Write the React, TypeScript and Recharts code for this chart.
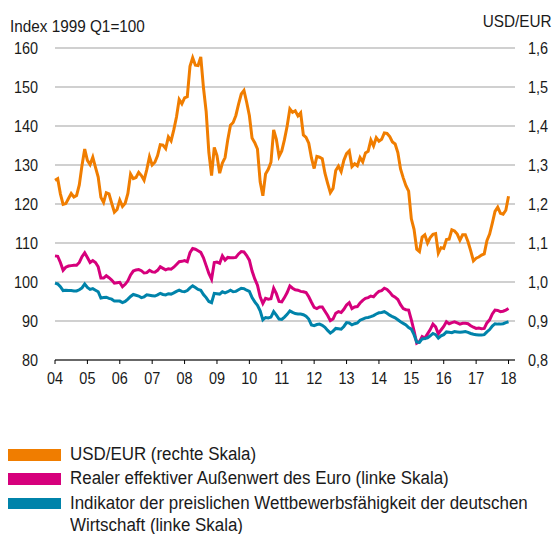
import React from 'react';
import { LineChart, Line, XAxis, YAxis, CartesianGrid } from 'recharts';

const FONT = "'Liberation Sans', Arial, sans-serif";

const ORANGE = '#f07d00';
const PINK = '#d6007c';
const BLUE = '#0083aa';

// monthly, Jan 2004 .. Jan 2018
const START_YEAR = 2004;

const usdEur = [
  1.261, 1.265, 1.226, 1.199, 1.201, 1.214, 1.227, 1.218, 1.222, 1.249, 1.299, 1.341,
  1.312, 1.301, 1.320, 1.294, 1.269, 1.217, 1.204, 1.229, 1.226, 1.202, 1.179, 1.186,
  1.210, 1.194, 1.202, 1.227, 1.277, 1.265, 1.268, 1.281, 1.273, 1.261, 1.288, 1.321,
  1.300, 1.307, 1.324, 1.352, 1.351, 1.342, 1.372, 1.362, 1.390, 1.423, 1.468, 1.457,
  1.472, 1.475, 1.553, 1.575, 1.556, 1.555, 1.577, 1.498, 1.437, 1.332, 1.273, 1.345,
  1.324, 1.279, 1.305, 1.319, 1.365, 1.402, 1.409, 1.427, 1.456, 1.482, 1.491, 1.461,
  1.427, 1.369, 1.357, 1.341, 1.257, 1.221, 1.277, 1.289, 1.307, 1.390, 1.366, 1.322,
  1.336, 1.365, 1.400, 1.444, 1.435, 1.439, 1.426, 1.434, 1.377, 1.371, 1.356, 1.318,
  1.291, 1.322, 1.320, 1.316, 1.279, 1.253, 1.229, 1.240, 1.286, 1.297, 1.283, 1.312,
  1.329, 1.336, 1.296, 1.303, 1.298, 1.319, 1.308, 1.331, 1.335, 1.364, 1.349, 1.370,
  1.361, 1.366, 1.382, 1.381, 1.373, 1.359, 1.354, 1.332, 1.290, 1.267, 1.247, 1.233,
  1.162, 1.135, 1.084, 1.078, 1.115, 1.121, 1.100, 1.114, 1.122, 1.124, 1.074, 1.088,
  1.086, 1.109, 1.110, 1.134, 1.131, 1.123, 1.107, 1.121, 1.121, 1.103, 1.080, 1.054,
  1.061, 1.064, 1.069, 1.072, 1.106, 1.123, 1.151, 1.181, 1.192, 1.176, 1.174, 1.184,
  1.220,
];

const realEffective = [
  106.7, 106.6, 105.0, 103.0, 103.8, 104.1, 104.2, 104.3, 104.3, 105.0, 106.5, 107.5,
  106.3, 105.0, 105.5, 105.0, 103.9, 101.0, 101.0, 101.6, 101.1, 100.5, 99.7, 99.8,
  99.9, 98.8, 99.4, 100.3, 101.8, 102.8, 103.1, 103.2, 102.9, 102.3, 102.4, 103.0,
  102.6, 102.5, 103.0, 103.9, 103.5, 103.1, 103.4, 103.3, 103.8, 104.5, 105.2, 105.3,
  105.5, 105.2, 107.5, 108.6, 108.4, 108.0, 107.6, 106.2, 104.2, 102.2, 100.7, 105.0,
  105.1, 104.8, 106.7, 105.6, 106.3, 106.2, 106.2, 106.3, 107.2, 107.8, 107.7, 106.8,
  105.6, 102.8, 100.8, 99.2, 96.2, 94.5, 95.8, 95.6, 95.7, 98.4, 97.0, 95.0,
  94.9, 96.0, 97.3, 99.0, 98.4, 98.0, 97.9, 97.6, 97.5, 97.3, 96.2, 94.8,
  93.5, 93.2, 93.6, 93.6, 92.5, 91.4, 90.1, 90.5, 92.0, 92.4, 92.2, 93.0,
  94.1, 94.7, 93.2, 93.6, 93.7, 94.6, 95.3, 95.8, 96.0, 96.4, 96.2, 97.0,
  97.6, 97.8, 98.4, 98.1, 97.4, 96.5, 96.1, 95.5, 94.2, 93.2, 92.9, 92.8,
  90.3, 87.5, 84.3, 84.7, 86.0, 85.6, 86.7, 87.8, 89.2, 88.5, 86.7, 87.7,
  88.6, 89.8, 89.3, 89.6, 89.8, 89.5, 89.2, 89.4, 89.4, 89.3, 88.8, 88.4,
  88.1, 88.2, 88.0, 88.1, 89.5, 90.3, 91.8, 92.8, 92.7, 92.4, 92.5, 92.8,
  93.2,
];

const competitiveness = [
  99.7, 99.5, 98.8, 97.8, 97.9, 97.8, 97.8, 97.7, 97.7, 98.0, 98.5, 99.5,
  98.6, 98.1, 98.3, 97.9, 97.5, 95.9, 96.0, 96.1, 95.8, 95.6, 95.1, 95.1,
  95.1, 94.7, 95.0, 95.6, 96.3, 96.8, 96.6, 96.4, 96.0, 96.2, 96.7, 96.6,
  96.5, 96.4, 96.7, 97.1, 96.8, 96.7, 97.0, 96.9, 97.2, 97.6, 97.9, 97.6,
  97.5, 97.8, 98.5, 99.0, 98.6, 98.1, 97.9, 96.8, 96.0, 95.0, 94.7, 97.1,
  97.0, 96.9, 97.5, 97.2, 97.5, 97.9, 97.5, 97.6, 98.0, 98.4, 98.3, 97.9,
  97.6, 96.0, 94.9, 94.0, 92.6, 90.3, 90.9, 90.8, 91.0, 92.4, 91.5, 90.5,
  90.4, 91.0, 91.7, 92.6, 92.2, 91.9, 91.8, 91.8, 91.6, 91.2, 90.5, 89.0,
  88.8, 89.1, 89.2, 88.9, 88.4, 87.6, 86.9, 87.4, 88.1, 88.0, 87.9, 88.6,
  89.6, 89.5, 89.0, 89.3, 89.5, 90.2, 90.5, 90.8, 90.9, 91.1, 91.4, 91.8,
  92.1, 92.2, 92.4, 92.0, 91.5, 91.1, 90.8, 90.3, 89.8, 89.4, 89.0, 88.3,
  87.9, 86.5, 84.6, 84.5, 85.4, 85.5, 85.7, 86.2, 86.8, 86.5, 85.6, 86.2,
  86.5, 87.2, 87.1, 87.0, 87.3, 87.2, 87.1, 87.2, 87.3, 87.1, 86.8, 86.6,
  86.5, 86.4, 86.4, 86.5, 87.2, 87.8, 88.7, 89.3, 89.2, 89.2, 89.3, 89.6,
  89.8,
];

const yearTicks = [2004, 2005, 2006, 2007, 2008, 2009, 2010, 2011, 2012, 2013, 2014, 2015, 2016, 2017, 2018];
const leftTicks = [80, 90, 100, 110, 120, 130, 140, 150, 160];
const rightTicks = [0.8, 0.9, 1.0, 1.1, 1.2, 1.3, 1.4, 1.5, 1.6];

const data = usdEur.map((v, i) => ({
  t: START_YEAR + i / 12,
  usd: v,
  reer: realEffective[i],
  comp: competitiveness[i],
}));

const legendItems = [
  { color: ORANGE, lines: ['USD/EUR (rechte Skala)'] },
  { color: PINK, lines: ['Realer effektiver Außenwert des Euro (linke Skala)'] },
  { color: BLUE, lines: ['Indikator der preislichen Wettbewerbsfähigkeit der deutschen', 'Wirtschaft (linke Skala)'] },
];

// condensed look: Liberation Sans squeezed horizontally
function makeTick(anchor: 'start' | 'middle' | 'end', dy: string, fmt: (v: number) => string) {
  return (props: any) => {
    const { x, y, payload } = props;
    return (
      <text
        transform={`translate(${x},${y}) scale(0.85,1)`}
        textAnchor={anchor}
        dy={dy}
        fontSize={17}
        fontFamily={FONT}
        fill="#1a1a1a"
      >
        {fmt(payload.value)}
      </text>
    );
  };
}

const xTick = makeTick('middle', '0.71em', (v) => String(v).slice(2));
const leftTick = makeTick('end', '0.355em', (v) => String(v));
const rightTick = makeTick('start', '0.355em', (v) => v.toFixed(1).replace('.', ','));

export default function App() {
  return (
    <div style={{ position: 'absolute', left: 0, top: 0, width: 557, height: 534, background: '#fff', fontFamily: FONT, color: '#1a1a1a', overflow: 'hidden' }}>
      <div style={{ position: 'absolute', left: 10, top: 16.5, fontSize: 17, lineHeight: '20px', whiteSpace: 'nowrap', transform: 'scaleX(0.9)', transformOrigin: 'left' }}>
        Index 1999 Q1=100
      </div>
      <div style={{ position: 'absolute', right: 5, top: 12, fontSize: 17, lineHeight: '20px', whiteSpace: 'nowrap', transform: 'scaleX(0.9)', transformOrigin: 'right' }}>
        USD/EUR
      </div>

      <div style={{ position: 'absolute', left: 0, top: 0 }}>
        <LineChart width={557} height={400} data={data} margin={{ top: 48, right: 0, bottom: 0, left: 0 }}>
          <CartesianGrid yAxisId="left" vertical={false} stroke="#c0c0c0" strokeWidth={1.5} />
          <XAxis
            dataKey="t"
            type="number"
            domain={[2004, 2018.2]}
            ticks={yearTicks}
            tick={xTick}
            tickSize={4}
            tickMargin={8}
            height={40}
            axisLine={{ stroke: '#000', strokeWidth: 1 }}
            tickLine={{ stroke: '#000' }}
            interval={0}
          />
          <YAxis
            yAxisId="left"
            domain={[80, 160]}
            ticks={leftTicks}
            width={55}
            tick={leftTick}
            axisLine={false}
            tickLine={false}
            tickSize={0}
            tickMargin={17}
          />
          <YAxis
            yAxisId="right"
            orientation="right"
            domain={[0.8, 1.6]}
            ticks={rightTicks}
            width={42}
            tick={rightTick}
            axisLine={false}
            tickLine={false}
            tickSize={0}
            tickMargin={13}
          />
          <Line yAxisId="left" type="linear" dataKey="reer" stroke={PINK} strokeWidth={3} dot={false} isAnimationActive={false} />
          <Line yAxisId="left" type="linear" dataKey="comp" stroke={BLUE} strokeWidth={3} dot={false} isAnimationActive={false} />
          <Line yAxisId="right" type="linear" dataKey="usd" stroke={ORANGE} strokeWidth={3} dot={false} isAnimationActive={false} />
        </LineChart>
      </div>

      {legendItems.map((item, i) => {
        const top = 446 + i * 24.3;
        return (
          <div key={item.lines[0]}>
            <div style={{ position: 'absolute', left: 8, top: top + 3, width: 53, height: 11.5, background: item.color }} />
            <div style={{ position: 'absolute', left: 70, top, fontSize: 18, lineHeight: '17px', whiteSpace: 'nowrap', transform: 'scaleX(0.94)', transformOrigin: 'left' }}>
              {item.lines.map((l, j) => (
                <div key={l} style={{ marginTop: j > 0 ? 5 : 0 }}>{l}</div>
              ))}
            </div>
          </div>
        );
      })}
    </div>
  );
}
